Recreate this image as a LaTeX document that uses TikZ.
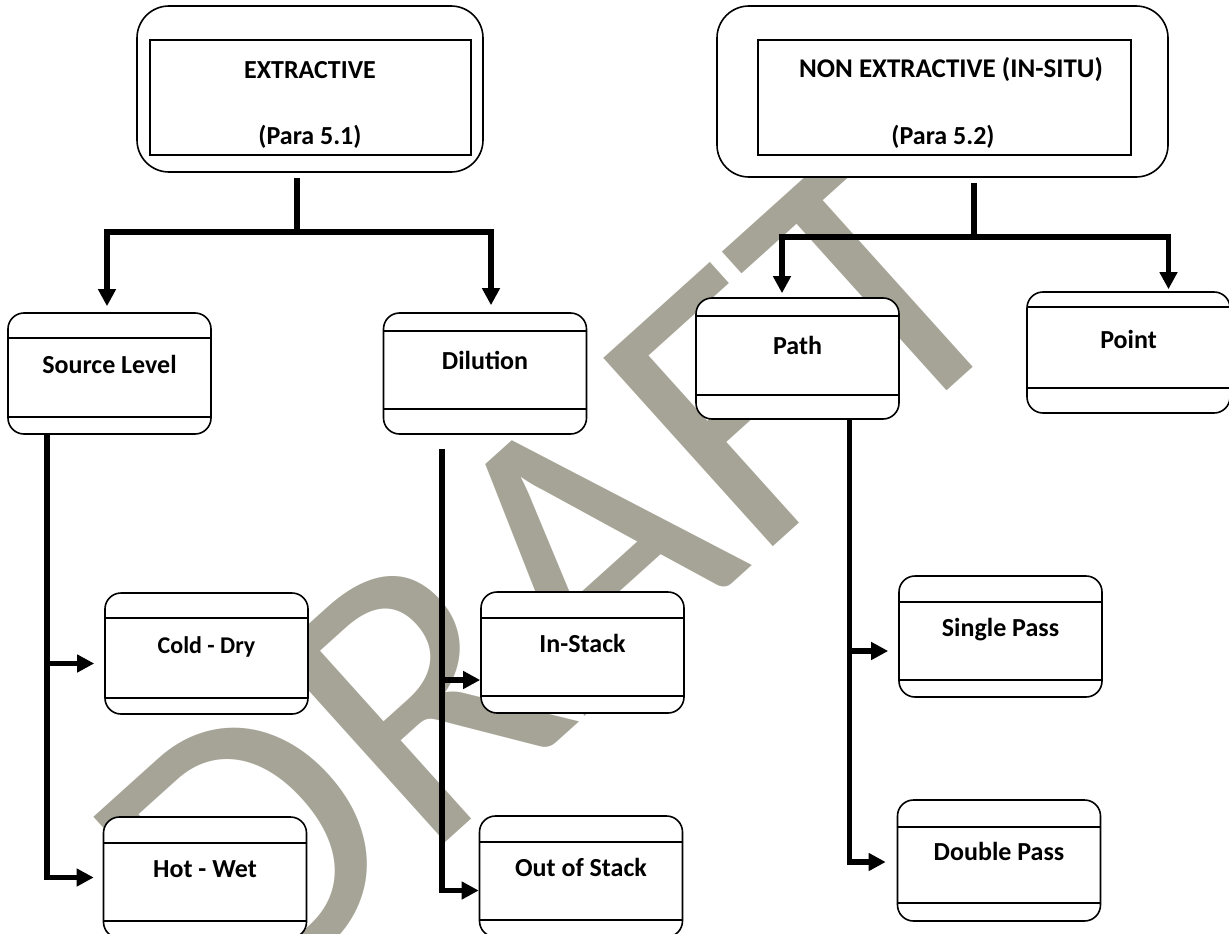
\documentclass[tikz,border=0pt]{standalone}
\usepackage{fontspec}
\setmainfont{Carlito}
\usetikzlibrary{arrows.meta,positioning}
\definecolor{wmgray}{RGB}{166,164,150}
\tikzset{
    %Define standard arrow tip
    >={Triangle[length=17pt,width=17pt]},
    %Define style for the two method frames
    methodframe/.style={
           draw=black, line width=1.6pt,
           rounded corners=32pt,
           fill=white},
    inframe/.style={
           draw=black, line width=1.6pt,
           fill=white},
    %Define style for the category boxes (two inner rules)
    catbox/.style 2 args={
           draw=black, line width=1.6pt,
           fill=white,
           rounded corners=16pt,
           minimum width=203pt,
           minimum height=121pt,
           text height=18pt, text depth=18pt,
           font=\bfseries\fontsize{26}{31}\selectfont,
           path picture={
              \draw[line width=1.2pt] ([yshift=-#1]path picture bounding box.north west) -- ([yshift=-#1]path picture bounding box.north east);
              \draw[line width=1.2pt] ([yshift=#2]path picture bounding box.south west) -- ([yshift=#2]path picture bounding box.south east);}},
    lbl/.style={
           font=\bfseries\fontsize{26}{31}\selectfont,
           inner sep=0pt},
    % Define connector styles
    trunk/.style={line width=5.5pt},
    pil/.style={->, line width=5.5pt}
}
\begin{document}
\begin{tikzpicture}[x=1pt,y=-1pt]
\useasboundingbox (0,0) rectangle (1229,934);
\clip (0,0) rectangle (1229,934);
%Watermark
\node[rotate=42, text=wmgray, inner sep=0pt, font=\fontsize{395}{395}\selectfont] (watermark) at (553,575) {DRAFT};
%Method frames
\node[methodframe, minimum width=346pt, minimum height=166pt] (ext) at (310,89) {};
\node[inframe, minimum width=321pt, minimum height=115pt] (extIn) at (310.5,97.5) {};
\node[lbl] (extTitle) at (310,70) {EXTRACTIVE};
\node[lbl] (extPara) at (310,137) {(Para 5.1)};
\node[methodframe, minimum width=451pt, minimum height=171pt] (nonext) at (942.5,91.5) {};
\node[inframe, minimum width=373pt, minimum height=115pt] (nonextIn) at (944.5,97.5) {};
\node[lbl, font=\bfseries\fontsize{27}{32}\selectfont] (nonextTitle) at (951,70) {NON EXTRACTIVE (IN-SITU)};
\node[lbl] (nonextPara) at (943,137) {(Para 5.2)};
%Categories
\node[catbox={25pt}{17pt}] (source) at (109.5,373.5) {Source Level};
\node[catbox={18pt}{25pt}, text depth=27pt] (dilution) at (485,373.5) {Dilution};
\node[catbox={18pt}{24pt}, text depth=27pt] (path) at (797.5,358.5) {Path};
\node[catbox={15pt}{25pt}, text depth=27pt] (point) at (1128.5,352.5) {Point};
\node[catbox={25pt}{16pt}, font=\bfseries\fontsize{24}{29}\selectfont] (cold) at (206.5,653.5) {Cold - Dry};
\node[catbox={26pt}{17pt}] (hot) at (205,877.5) {Hot - Wet};
\node[catbox={26pt}{17pt}] (instack) at (582.5,652.5) {In-Stack};
\node[catbox={26pt}{17pt}] (outstack) at (581,876.5) {Out of Stack};
\node[catbox={26pt}{17pt}] (single) at (1000.5,636.5) {Single Pass};
\node[catbox={27pt}{18pt}] (double) at (999,860.5) {Double Pass};
%Connectors from the frames
\coordinate (extFoot) at ([yshift=-5pt]ext.south);
\coordinate (extJoin) at (297,232);
\draw[trunk] (extFoot -| extJoin) -- (extJoin);
\draw[pil] (extJoin) -| ([xshift=-2.5pt,yshift=6pt]source.north);
\draw[pil] (extJoin) -| ([xshift=6pt,yshift=7pt]dilution.north);
\coordinate (nonextFoot) at ([yshift=-5pt]nonext.south);
\coordinate (nonextJoin) at (974,237);
\draw[trunk] (nonextFoot -| nonextJoin) -- (nonextJoin);
\draw[pil] (nonextJoin) -| ([xshift=-15.5pt,yshift=4pt]path.north);
\draw[pil] (nonextJoin) -| ([xshift=40pt,yshift=2pt]point.north);
%Connectors to the sub-categories
\coordinate (srcTrunk) at ([xshift=-62.5pt]source.south);
\coordinate (coldIn) at ([xshift=-10pt,yshift=-10pt]cold.west);
\coordinate (hotIn) at ([xshift=-9pt]hot.west);
\draw[pil] (srcTrunk) |- (hotIn);
\draw[pil] (srcTrunk |- coldIn) -- (coldIn);
\coordinate (dilTrunk) at ([xshift=-43pt,yshift=-14pt]dilution.south);
\coordinate (inIn) at ([yshift=-27.5pt]instack.west);
\coordinate (outIn) at ([yshift=-14pt]outstack.west);
\draw[pil] (dilTrunk) |- (outIn);
\draw[pil] (dilTrunk |- inIn) -- (inIn);
\coordinate (pathTrunk) at ([xshift=52pt]path.south);
\coordinate (singleIn) at ([xshift=-10pt,yshift=-14.5pt]single.west);
\coordinate (doubleIn) at ([xshift=-11pt,yshift=-1.5pt]double.west);
\draw[pil] (pathTrunk) |- (doubleIn);
\draw[pil] (pathTrunk |- singleIn) -- (singleIn);
\end{tikzpicture}
\end{document}
